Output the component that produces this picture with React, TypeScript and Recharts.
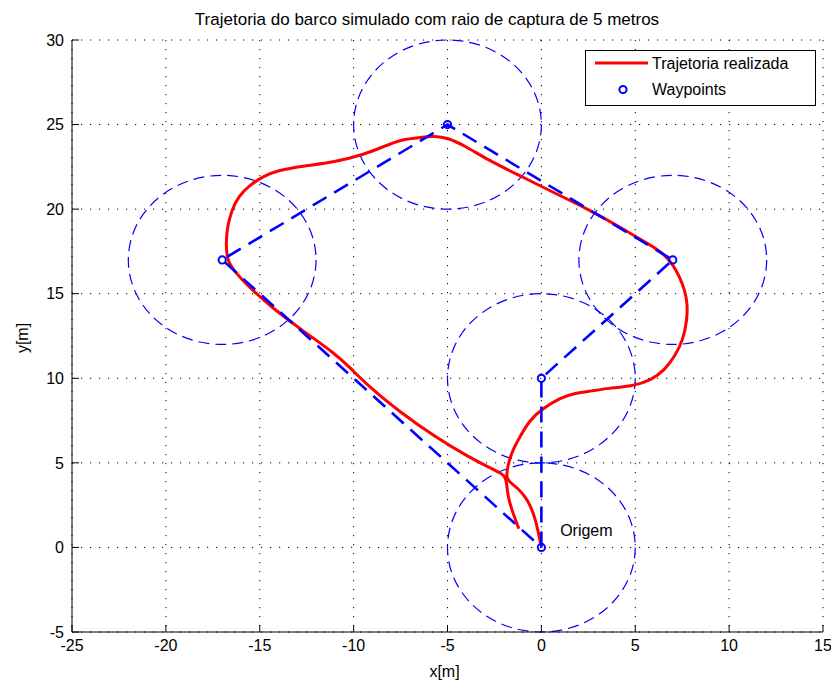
import React from 'react';
import {
  ScatterChart,
  Scatter,
  XAxis,
  YAxis,
  CartesianGrid,
  ReferenceArea,
  ReferenceDot,
} from 'recharts';

const FONT = '"Liberation Sans", Arial, Helvetica, sans-serif';
const TITLE = 'Trajetoria do barco simulado com raio de captura de 5 metros';
const X_LABEL = 'x[m]';
const Y_LABEL = 'y[m]';
const LEGEND_TRAJ = 'Trajetoria realizada';
const LEGEND_WP = 'Waypoints';
const ORIGIN_LABEL = 'Origem';

// axis ticks
const xTicks = [-25, -20, -15, -10, -5, 0, 5, 10, 15];
const yTicks = [-5, 0, 5, 10, 15, 20, 25, 30];

// waypoints (path order, closed back to origin)
const waypointX = [0, 0, 7, -5, -17, 0];
const waypointY = [0, 10, 17, 25, 17, 0];

// capture circles
const circleX = [0, 0, 7, -5, -17];
const circleY = [0, 10, 17, 25, 17];
const captureRadius = 5;

// origin annotation position
const originLabelX = 1;
const originLabelY = 1;

// realized trajectory
const trajX = [
  -0.05, -0.2, -0.36, -0.71, -1.24, -1.77, -1.86, -1.8, -1.6, -1.24,
  -0.62, 0.0, 1.0, 1.8, 2.66, 3.55, 4.88, 5.86, 6.57, 7.1,
  7.55, 7.76, 7.78, 7.63, 7.36, 7.01, 6.57, 6.03, 5.32, 4.26,
  2.49, 0.71, -1.06, -2.84, -4.08, -5.0, -5.7, -6.4, -7.46, -8.4,
  -9.4, -11.0, -12.78, -14.0, -14.8, -15.5, -16.15, -16.5, -16.72, -16.8,
  -16.75, -16.6, -15.97, -14.55, -12.78, -11.0, -10.12, -9.23, -7.46, -5.68,
  -3.91, -2.9, -2.13, -1.86, -1.8, -1.51, -1.24, -1.2,
];
const trajY = [
  0.25, 1.1, 1.82, 2.81, 3.5, 3.92, 4.2, 4.78, 5.57, 6.36,
  7.54, 8.15, 8.85, 9.12, 9.25, 9.41, 9.53, 9.9, 10.5, 11.28,
  12.27, 13.45, 14.44, 15.23, 16.01, 16.71, 17.3, 17.72, 18.18, 18.9,
  20.0, 20.95, 21.93, 22.9, 23.75, 24.22, 24.33, 24.25, 24.12, 23.7,
  23.25, 22.78, 22.54, 22.3, 21.95, 21.45, 20.75, 19.9, 19.0, 18.0,
  17.2, 16.7, 15.82, 14.35, 12.86, 11.48, 10.55, 9.55, 7.94, 6.55,
  5.37, 4.8, 4.39, 4.15, 3.0, 2.02, 1.23, 1.1,
];

const trajData = trajX.map((x, i) => ({ x, y: trajY[i] }));
const waypointData = waypointX.map((x, i) => ({ x, y: waypointY[i] }));
const markerData = waypointData.slice(0, 5);

const RED = '#ff0000';
const BLUE = '#0000ff';
const TICK_FS = 16;
const TICK_LEN = 7;
const X_MARGIN = 8;
const Y_MARGIN = 8;

const BottomTick = (p: any) => (
  <g>
    <line x1={p.x} y1={p.y - X_MARGIN} x2={p.x} y2={p.y - X_MARGIN - TICK_LEN} stroke="#000" strokeWidth={1} />
    <text x={p.x} y={p.y} dy="0.71em" textAnchor="middle" fontSize={TICK_FS} fontFamily={FONT} fill="#000">
      {p.payload.value}
    </text>
  </g>
);

const LeftTick = (p: any) => (
  <g>
    <line x1={p.x + Y_MARGIN} y1={p.y} x2={p.x + Y_MARGIN + TICK_LEN} y2={p.y} stroke="#000" strokeWidth={1} />
    <text x={p.x} y={p.y} dy="0.355em" textAnchor="end" fontSize={TICK_FS} fontFamily={FONT} fill="#000">
      {p.payload.value}
    </text>
  </g>
);

const TopTick = (p: any) => (
  <line x1={p.x} y1={p.y} x2={p.x} y2={p.y + TICK_LEN} stroke="#000" strokeWidth={1} />
);

const RightTick = (p: any) => (
  <line x1={p.x} y1={p.y} x2={p.x - TICK_LEN} y2={p.y} stroke="#000" strokeWidth={1} />
);

const XLabel = (p: any) => {
  const vb = p.viewBox || { x: 72, y: 632, width: 751, height: 52 };
  return (
    <text x={vb.x + vb.width / 2 - 3} y={vb.y + 45} textAnchor="middle" fontSize={TICK_FS} fontFamily={FONT} fill="#000">
      {X_LABEL}
    </text>
  );
};

const YLabel = (p: any) => {
  const vb = p.viewBox || { x: 0, y: 40, width: 72, height: 592 };
  const cx = vb.x + 22;
  const cy = vb.y + vb.height / 2 + 2;
  return (
    <text
      x={cx}
      y={cy}
      dy="0.35em"
      textAnchor="middle"
      transform={`rotate(-90 ${cx} ${cy})`}
      fontSize={TICK_FS}
      fontFamily={FONT}
      fill="#000"
    >
      {Y_LABEL}
    </text>
  );
};

const CircleShape = (p: any) => (
  <ellipse
    cx={p.x + p.width / 2}
    cy={p.y + p.height / 2}
    rx={Math.abs(p.width) / 2}
    ry={Math.abs(p.height) / 2}
    fill="none"
    stroke={BLUE}
    strokeWidth={1.2}
    strokeDasharray="11 6"
  />
);

const WaypointMarker = (p: any) => (
  <circle cx={p.cx} cy={p.cy} r={3.6} fill="none" stroke={BLUE} strokeWidth={2} />
);

const NoMarker = () => <g />;

const OriginText = (p: any) => (
  <text x={p.cx} y={p.cy} dy="0.35em" textAnchor="start" fontSize={TICK_FS} fontFamily={FONT} fill="#000">
    {ORIGIN_LABEL}
  </text>
);

export default function App() {
  return (
    <div style={{ position: 'absolute', left: 0, top: 0, width: 831, height: 684, background: '#fff', fontFamily: FONT }}>
      <ScatterChart width={831} height={684} margin={{ top: 40, right: 8, bottom: 0, left: 0 }}>
        <CartesianGrid stroke="#000" strokeWidth={1} strokeDasharray="1.2 7.8" />
        <XAxis
          type="number"
          dataKey="x"
          domain={[-25, 15]}
          ticks={xTicks}
          interval={0}
          allowDataOverflow
          height={52}
          tickSize={0}
          tickMargin={X_MARGIN}
          tickLine={false}
          axisLine={{ stroke: '#000', strokeWidth: 1 }}
          tick={BottomTick}
          label={<XLabel />}
        />
        <XAxis
          xAxisId="top"
          orientation="top"
          type="number"
          domain={[-25, 15]}
          ticks={xTicks}
          interval={0}
          allowDataOverflow
          height={0}
          tickSize={0}
          tickMargin={0}
          tickLine={false}
          axisLine={false}
          tick={TopTick}
        />
        <YAxis
          type="number"
          dataKey="y"
          domain={[-5, 30]}
          ticks={yTicks}
          interval={0}
          allowDataOverflow
          width={72}
          tickSize={0}
          tickMargin={Y_MARGIN}
          tickLine={false}
          axisLine={{ stroke: '#000', strokeWidth: 1 }}
          tick={LeftTick}
          label={<YLabel />}
        />
        <YAxis
          yAxisId="right"
          orientation="right"
          type="number"
          domain={[-5, 30]}
          ticks={yTicks}
          interval={0}
          allowDataOverflow
          width={0}
          tickSize={0}
          tickMargin={0}
          tickLine={false}
          axisLine={false}
          tick={RightTick}
        />
        {circleX.map((cx, i) => (
          <ReferenceArea
            key={`c${i}`}
            x1={cx - captureRadius}
            x2={cx + captureRadius}
            y1={circleY[i] - captureRadius}
            y2={circleY[i] + captureRadius}
            ifOverflow="visible"
            shape={CircleShape}
          />
        ))}
        <Scatter
          name={LEGEND_TRAJ}
          data={trajData}
          dataKey="y"
          line={{ stroke: RED, strokeWidth: 3 }}
          lineJointType="basis"
          shape={NoMarker}
          isAnimationActive={false}
        />
        <Scatter
          name="waypoint path"
          data={waypointData}
          dataKey="y"
          line={{ stroke: BLUE, strokeWidth: 2.6, strokeDasharray: '16 9' }}
          lineJointType="linear"
          shape={NoMarker}
          isAnimationActive={false}
        />
        <Scatter
          name={LEGEND_WP}
          data={markerData}
          dataKey="y"
          shape={WaypointMarker}
          isAnimationActive={false}
        />
        <ReferenceDot x={originLabelX} y={originLabelY} r={0} ifOverflow="visible" shape={OriginText} />
      </ScatterChart>

      <div
        style={{
          position: 'absolute',
          left: 0,
          top: 10,
          width: 854,
          textAlign: 'center',
          fontSize: 17,
          lineHeight: '20px',
          color: '#000',
          whiteSpace: 'nowrap',
        }}
      >
        {TITLE}
      </div>

      <div
        style={{
          position: 'absolute',
          left: 585,
          top: 50,
          width: 231,
          height: 56,
          boxSizing: 'border-box',
          border: '1px solid #000',
          background: '#fff',
        }}
      >
        <svg width={229} height={54} style={{ position: 'absolute', left: 0, top: 0 }}>
          <line x1={9} y1={12} x2={62} y2={12} stroke={RED} strokeWidth={3} />
          <text x={66} y={12} dy="0.35em" fontSize={TICK_FS} fontFamily={FONT} fill="#000">
            {LEGEND_TRAJ}
          </text>
          <circle cx={37} cy={38.5} r={3.6} fill="none" stroke={BLUE} strokeWidth={2} />
          <text x={66} y={38.5} dy="0.35em" fontSize={TICK_FS} fontFamily={FONT} fill="#000">
            {LEGEND_WP}
          </text>
        </svg>
      </div>
    </div>
  );
}
